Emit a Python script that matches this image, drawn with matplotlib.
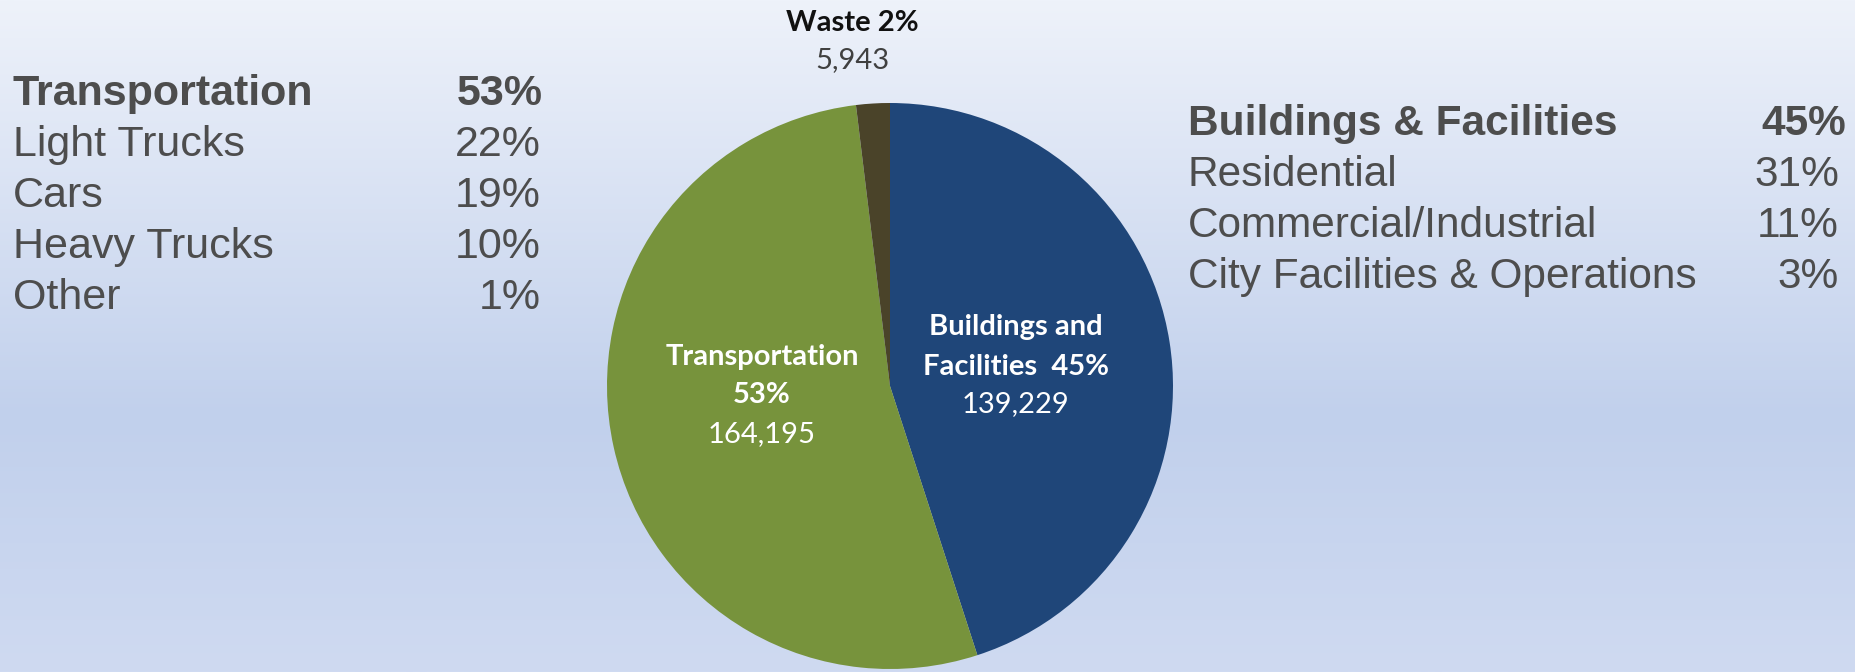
import numpy as np
import matplotlib
matplotlib.use('Agg')
import matplotlib.pyplot as plt
from matplotlib.colors import LinearSegmentedColormap

# pie data (MT CO2e)
sectors = ['Buildings and Facilities', 'Transportation', 'Waste']
emissions = [139229, 164195, 5943]
sector_pct = ['45%', '53%', '2%']
colors = ['#1f4679', '#77933c', '#4a4329']

# side breakdowns
transport_items = ['Light Trucks', 'Cars', 'Heavy Trucks', 'Other']
transport_pct = ['22%', '19%', '10%', '1%']
building_items = ['Residential', 'Commercial/Industrial', 'City Facilities & Operations']
building_pct = ['31%', '11%', '3%']

W, H = 1856, 672
fig = plt.figure(figsize=(W / 100, H / 100), dpi=100)

# background gradient
bg = fig.add_axes([0, 0, 1, 1])
bg_cmap = LinearSegmentedColormap.from_list(
    'bg', [(0, '#eef2fa'), (0.62, '#c1d0ec'), (1, '#cfdaf1')])
bg.imshow(np.linspace(0, 1, 256).reshape(-1, 1), aspect='auto', cmap=bg_cmap,
          extent=[0, 1, 0, 1])
bg.set_axis_off()


def fx(x):
    return x / W


def fy(y):
    return 1 - y / H


# pie axes, centre (890, 386) px, radius 283 px
cx, cy, r = 890, 386, 283
ax = fig.add_axes([fx(cx - r), fy(cy + r), 2 * r / W, 2 * r / H])
ax.pie(emissions, colors=colors, startangle=90, counterclock=False,
       wedgeprops=dict(linewidth=0))
ax.set_xlim(-1, 1)
ax.set_ylim(-1, 1)
ax.set_aspect('equal')

pie_font = 'Lato'
fs = 21


def pie_text(x, y, s, bold=False, color='white'):
    ax.text((x - cx) / r, (cy - y) / r, s, color=color, fontsize=fs,
            fontweight='bold' if bold else 'normal', family=pie_font,
            ha='center', va='baseline')


# labels inside the pie (baselines in px)
pie_text(762, 365, sectors[1], bold=True)
pie_text(762, 403, sector_pct[1], bold=True)
pie_text(762, 442, f'{emissions[1]:,}')

pie_text(1016, 335, 'Buildings and', bold=True)
pie_text(1016, 375, 'Facilities  ' + sector_pct[0], bold=True)
pie_text(1016, 412, f'{emissions[0]:,}')

pie_text(852, 31, sectors[2] + ' ' + sector_pct[2], bold=True, color='#111111')
pie_text(852, 68, f'{emissions[2]:,}', color='#404040')

# side text blocks
side_font = 'Liberation Sans'
gray = '#4d4d4d'

fs_l = 31
fig.text(fx(13), fy(105), 'Transportation', fontsize=fs_l, fontweight='bold',
         color=gray, family=side_font, va='baseline')
fig.text(fx(543), fy(105), sector_pct[1], fontsize=fs_l, fontweight='bold',
         color=gray, family=side_font, va='baseline', ha='right')
for i, (name, p) in enumerate(zip(transport_items, transport_pct)):
    y = 105 + 51 * (i + 1)
    fig.text(fx(13), fy(y), name, fontsize=fs_l, color=gray, family=side_font,
             va='baseline')
    fig.text(fx(541), fy(y), p, fontsize=fs_l, color=gray, family=side_font,
             va='baseline', ha='right')

fs_r = 30.5
fig.text(fx(1188), fy(135), 'Buildings & Facilities', fontsize=fs_r,
         fontweight='bold', color=gray, family=side_font, va='baseline')
fig.text(fx(1846), fy(135), sector_pct[0], fontsize=fs_r, fontweight='bold',
         color=gray, family=side_font, va='baseline', ha='right')
for i, (name, p) in enumerate(zip(building_items, building_pct)):
    y = 135 + 51 * (i + 1)
    fig.text(fx(1188), fy(y), name, fontsize=fs_r, color=gray, family=side_font,
             va='baseline')
    fig.text(fx(1839), fy(y), p, fontsize=fs_r, color=gray, family=side_font,
             va='baseline', ha='right')

fig.savefig('out.png', dpi=100)
